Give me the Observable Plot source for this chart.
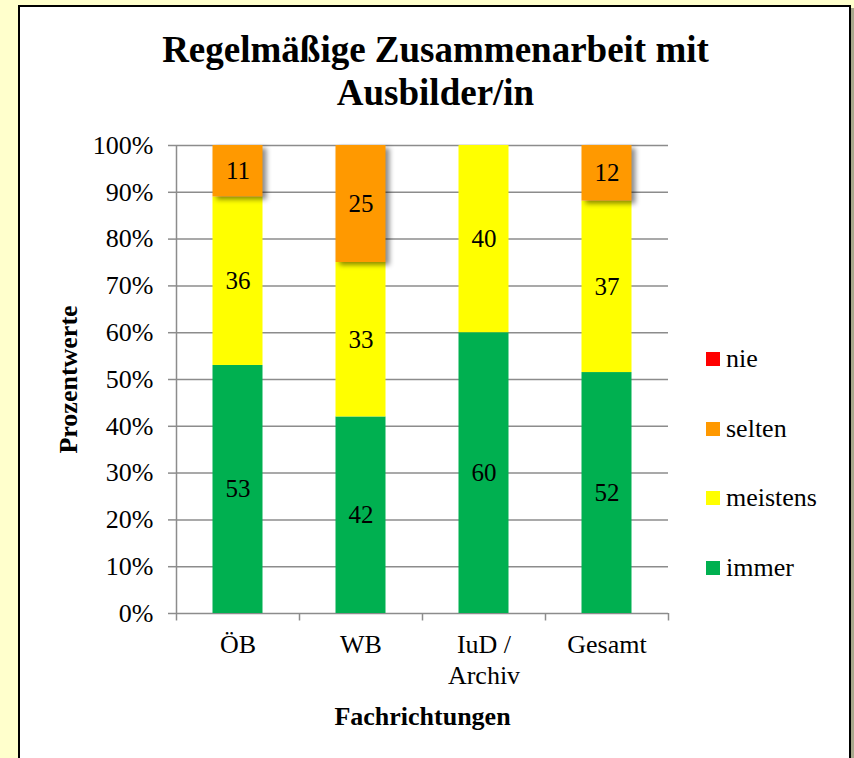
<!DOCTYPE html>
<html><head><meta charset="utf-8">
<script src="https://cdn.jsdelivr.net/npm/d3@7"></script>
<script src="https://cdn.jsdelivr.net/npm/@observablehq/plot@0.6"></script>
<style>
body{margin:0;background:#FFFFCC;width:854px;height:758px;overflow:hidden;position:relative;font-family:"Liberation Serif","Times New Roman",serif;}
#frame{position:absolute;left:18px;top:5px;width:829px;height:800px;background:#fff;border:2px solid #000;box-shadow:3px 3px 0 #A8A88C;}
#title{position:absolute;left:18px;top:28px;width:835px;text-align:center;font-weight:bold;font-size:37px;line-height:43px;color:#000;font-family:"Liberation Serif",serif;}
#chart{position:absolute;left:0;top:0;}
#chart svg text{font-family:"Liberation Serif","Times New Roman",serif;}
#legend{position:absolute;left:706px;top:348px;}
.item{display:flex;align-items:center;height:22px;margin-bottom:47.5px;font-size:26px;color:#000;font-family:"Liberation Serif","Times New Roman",serif;}
.sw{width:14px;height:14px;margin-right:6px;}
svg rect[fill="#FF9900"]{filter:drop-shadow(4px 3px 2.5px rgba(0,0,0,0.45));}
</style>
</head><body>
<div id="frame"></div>
<div id="title">Regelmäßige Zusammenarbeit mit<br>Ausbilder/in</div>
<div id="chart"></div>
<div id="legend"></div>
<script>
const categories = ["ÖB", "WB", "IuD /\nArchiv", "Gesamt"];
const seriesNames = ["immer", "meistens", "selten", "nie"];
const immer    = [53, 42, 60, 52];
const meistens = [36, 33, 40, 37];
const selten   = [11, 25, 0, 12];
const nie      = [0, 0, 0, 0];
const colors = ["#00B050", "#FFFF00", "#FF9900", "#FF0000"];
const yTicks = [0, 0.1, 0.2, 0.3, 0.4, 0.5, 0.6, 0.7, 0.8, 0.9, 1.0];

const seriesValues = [immer, meistens, selten, nie];
const data = [];
categories.forEach((c, i) => {
  seriesNames.forEach((s, j) => data.push({cat: c, series: s, value: seriesValues[j][i]}));
});

const step = 123;
const gray = "#8c8c8c";
const font = "'Liberation Serif','Times New Roman',serif";
const stackOpts = {x: "cat", y: "value", z: "series", order: seriesNames, offset: "normalize"};

const chart = Plot.plot({
  width: 854, height: 758,
  marginLeft: 176, marginRight: 186, marginTop: 145, marginBottom: 145,
  style: {background: "transparent", fontFamily: font, overflow: "visible"},
  x: {domain: categories, padding: 0, axis: null},
  y: {domain: [0, 1], axis: null},
  color: {domain: seriesNames, range: colors},
  marks: [
    Plot.ruleY(yTicks, {stroke: gray, strokeWidth: 1.5}),
    Plot.ruleX([categories[0]], {x: d => d, y1: 0, y2: 1, dx: -step / 2, stroke: gray, strokeWidth: 1.5}),
    Plot.ruleX(categories, {x: d => d, y1: 0, y2: -0.016, dx: -step / 2, stroke: gray, strokeWidth: 1.5}),
    Plot.ruleX([categories[categories.length - 1]], {x: d => d, y1: 0, y2: -0.016, dx: step / 2, stroke: gray, strokeWidth: 1.5}),
    Plot.barY(data.filter(d => d.value > 0), Plot.stackY({...stackOpts, fill: "series", insetLeft: 36.5, insetRight: 36.5})),
    Plot.text(data, Plot.stackY({...stackOpts, text: d => d.value > 0 ? String(d.value) : "", fontSize: 25, fontFamily: font, fill: "#000"})),
    Plot.axisY(yTicks, {tickFormat: d3.format(".0%"), tickSize: 8, tickPadding: 15, fontSize: 26, fontFamily: font, stroke: gray, strokeWidth: 1.5, fill: "#000", label: null}),
    Plot.axisX({tickSize: 0, tickPadding: 18, fontSize: 26, fontFamily: font, lineHeight: 1.18, fill: "#000", label: null}),
    Plot.text(["Fachrichtungen"], {frameAnchor: "bottom", dy: 103, textAnchor: "middle", lineAnchor: "middle", fontSize: 26, fontFamily: font, fontWeight: "bold", fill: "#000"}),
    Plot.text(["Prozentwerte"], {frameAnchor: "left", dx: -108, rotate: -90, textAnchor: "middle", lineAnchor: "middle", fontSize: 26, fontFamily: font, fontWeight: "bold", fill: "#000"})
  ]
});
document.getElementById("chart").appendChild(chart);

const legend = document.getElementById("legend");
seriesNames.slice().reverse().forEach(s => {
  const idx = seriesNames.indexOf(s);
  const item = document.createElement("div");
  item.className = "item";
  item.innerHTML = `<div class="sw" style="background:${colors[idx]}"></div><span>${s}</span>`;
  legend.appendChild(item);
});
</script>
</body></html>
